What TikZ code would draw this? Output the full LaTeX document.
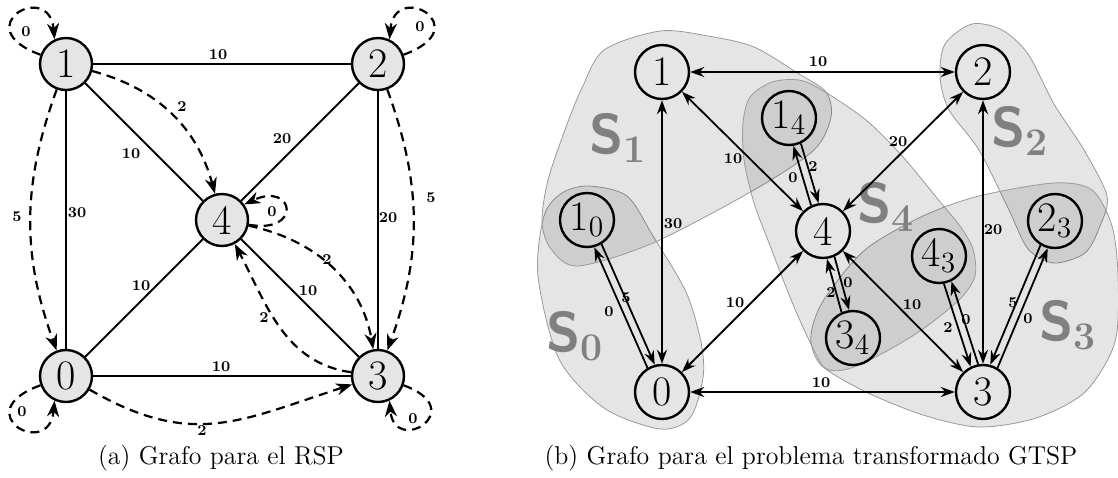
\documentclass[tikz,border=0pt]{standalone}
\usepackage{fontspec}
\usetikzlibrary{arrows.meta}
\newcommand{\sub}[1]{\textsubscript{#1}}
\begin{document}
\begin{tikzpicture}[x=0.5pt,y=0.5pt,
  gnode/.style={circle, draw, line width=1.2pt, minimum size=26pt, inner sep=0pt,
                font=\fontsize{21}{24}\selectfont},
  lnode/.style={gnode, fill=black!10},
  rnode/.style={gnode, minimum size=27pt},
  und/.style={line width=1pt},
  dasharc/.style={line width=1.1pt, dash pattern=on 4.5pt off 3pt,
                  -{Stealth[length=8pt,width=6pt,inset=2.5pt]}},
  biarr/.style={line width=0.9pt,
                {Stealth[length=7pt,width=5pt]}-{Stealth[length=7pt,width=5pt]}},
  onearr/.style={line width=0.9pt, -{Stealth[length=7pt,width=5pt]}},
  lab/.style={font=\fontsize{7.5}{9}\selectfont\bfseries, inner sep=0pt},
  gset/.style={fill=black, fill opacity=0.1, draw=black!40, line width=0.4pt},
  setlab/.style={text=black!50, inner sep=0pt, font=\fontsize{28}{32}\selectfont\sffamily\bfseries},
  caption/.style={font=\fontsize{12.9}{15}\selectfont, anchor=base}
]
\useasboundingbox (0,0) rectangle (1118,-477);

% ---------------- (a) graph of the RSP ----------------
\node[lnode] (a1) at (66,-64) {1};
\node[lnode] (a2) at (378,-64) {2};
\node[lnode] (a4) at (222,-220) {4};
\node[lnode] (a0) at (66,-376) {0};
\node[lnode] (a3) at (378,-376) {3};

\draw[und] (a1) -- (a2);
\draw[und] (a1) -- (a0);
\draw[und] (a2) -- (a3);
\draw[und] (a0) -- (a3);
\draw[und] (a1) -- (a4);
\draw[und] (a2) -- (a4);
\draw[und] (a0) -- (a4);
\draw[und] (a4) -- (a3);

\draw[dasharc] (a1) to[out=-15,in=105] (a4);
\draw[dasharc] (a1) to[out=-110,in=110] (a0);
\draw[dasharc] (a2) to[out=-70,in=70] (a3);
\draw[dasharc] (a4) to[out=-12,in=100] (a3);
\draw[dasharc] (a3) to[out=172,in=-62] (a4);
\draw[dasharc] (a0) to[out=-30,in=198,looseness=1.15] (a3);

% self loops
\draw[dasharc] (a1.160) .. controls +(160:80) and +(95:60) .. (a1.115);
\draw[dasharc] (a2.20) .. controls +(20:80) and +(85:60) .. (a2.65);
\draw[dasharc] (a0.200) .. controls +(200:80) and +(265:60) .. (a0.245);
\draw[dasharc] (a3.-20) .. controls +(-20:72) and +(-85:56) .. (a3.-65);
\draw[dasharc] (a4.-10) .. controls +(-10:55) and +(25:55) .. (a4.35);

% weights
\node[lab] (w12) at (218,-55) {10};
\node[lab] (w14) at (131,-154) {10};
\node[lab] (w10) at (77,-213) {30};
\node[lab] (d10) at (17,-217) {5};
\node[lab] (d14) at (182,-107) {2};
\node[lab] (w24) at (282,-139) {20};
\node[lab] (w23) at (388,-218) {20};
\node[lab] (d23) at (431,-198) {5};
\node[lab] (d44) at (272,-212) {0};
\node[lab] (d11) at (26,-32) {0};
\node[lab] (d22) at (420,-27) {0};
\node[lab] (w04) at (141,-286) {10};
\node[lab] (w03) at (221,-367) {10};
\node[lab] (d34) at (264,-318) {2};
\node[lab] (d03) at (202,-431) {2};
\node[lab] (d00) at (22,-412) {0};
\node[lab] (d43) at (327,-260) {2};
\node[lab] (w43) at (308,-291) {10};
\node[lab] (d33) at (413,-419) {0};

\node[caption] (capa) at (221,-464) {(a) Grafo para el RSP};

% ---------------- (b) transformed GTSP graph ----------------
% clusters
\draw[gset] plot[smooth cycle] coordinates {(589,-186) (627,-196) (653,-236) (686,-292)
  (701,-342) (703,-378) (690,-418) (660,-429) (604,-408) (559,-359) (538,-276) (544,-216) (562,-193)};
\draw[gset] plot[smooth cycle] coordinates {(660,-31) (708,-36) (754,-47) (799,-74) (826,-92)
  (831,-117) (814,-150) (754,-190) (653,-243) (578,-266) (551,-249) (542,-222) (548,-180)
  (566,-127) (582,-88) (604,-50)};
\draw[gset] plot[smooth cycle] coordinates {(945,-44) (972,-24) (1002,-30) (1028,-54)
  (1054,-104) (1084,-150) (1107,-196) (1100,-226) (1085,-253) (1054,-263) (1028,-249)
  (1009,-210) (979,-150) (949,-110) (940,-77)};
\draw[gset] plot[smooth cycle] coordinates {(979,-196) (1054,-183) (1092,-190) (1112,-226)
  (1118,-276) (1115,-342) (1085,-392) (1036,-418) (979,-427) (923,-415) (866,-392)
  (822,-366) (811,-342) (815,-318) (829,-292) (866,-249) (923,-216)};
\draw[gset] plot[smooth cycle] coordinates {(743,-123) (750,-97) (772,-82) (799,-80)
  (822,-90) (866,-120) (903,-157) (941,-203) (960,-226) (973,-249) (975,-276) (960,-299)
  (923,-329) (885,-352) (848,-369) (825,-368) (810,-342) (792,-302) (769,-243) (754,-203)
  (744,-160)};

\node[setlab] (s0) at (575,-336) {S\sub{\rmfamily 0}};
\node[setlab] (s1) at (618,-138) {S\sub{\rmfamily 1}};
\node[setlab] (s2) at (1020,-131) {S\sub{\rmfamily 2}};
\node[setlab] (s3) at (1068,-325) {S\sub{\rmfamily 3}};
\node[setlab] (s4) at (886,-207) {S\sub{\rmfamily 4}};

\node[rnode] (b1) at (662,-72) {1};
\node[rnode] (b2) at (983,-72) {2};
\node[rnode] (b0) at (662,-392) {0};
\node[rnode] (b3) at (983,-392) {3};
\node[rnode] (b4) at (823,-231) {4};
\node[rnode] (b10) at (587,-220) {1\sub{0}};
\node[rnode] (b14) at (789,-118) {1\sub{4}};
\node[rnode] (b23) at (1055,-221) {2\sub{3}};
\node[rnode] (b43) at (939,-256) {4\sub{3}};
\node[rnode] (b34) at (853,-338) {3\sub{4}};

\draw[biarr] (b1) -- (b2);
\draw[biarr] (b1) -- (b0);
\draw[biarr] (b1) -- (b4);
\draw[biarr] (b2) -- (b4);
\draw[biarr] (b2) -- (b3);
\draw[biarr] (b0) -- (b4);
\draw[biarr] (b0) -- (b3);
\draw[biarr] (b4) -- (b3);

% paired one-way arcs
\draw[onearr] (b10.-59) -- (b0.105);
\draw[onearr] (b0.121) -- (b10.-75);
\draw[onearr] (b14.-65) -- (b4.99);
\draw[onearr] (b4.115) -- (b14.-81);
\draw[onearr] (b4.-66) -- (b34.98);
\draw[onearr] (b34.114) -- (b4.-82);
\draw[onearr] (b43.-80) -- (b3.116);
\draw[onearr] (b3.100) -- (b43.-64);
\draw[onearr] (b23.-121) -- (b3.75);
\draw[onearr] (b3.59) -- (b23.-105);

\node[lab] (v12) at (818,-62) {10};
\node[lab] (v14) at (733,-159) {10};
\node[lab] (v10) at (673,-224) {30};
\node[lab] (v24) at (898,-142) {20};
\node[lab] (v23) at (993,-230) {20};
\node[lab] (v04) at (735,-303) {10};
\node[lab] (v03) at (821,-383) {10};
\node[lab] (v43) at (912,-305) {10};
\node[lab] (p100) at (626,-298) {5};
\node[lab] (p010) at (609,-312) {0};
\node[lab] (p144) at (813,-167) {2};
\node[lab] (p414) at (793,-178) {0};
\node[lab] (p344) at (831,-293) {2};
\node[lab] (p434) at (848,-283) {0};
\node[lab] (p433) at (948,-328) {2};
\node[lab] (p343) at (966,-320) {0};
\node[lab] (p233) at (1013,-303) {5};
\node[lab] (p323) at (1028,-319) {0};

\node[caption] (capb) at (811,-464) {(b) Grafo para el problema transformado GTSP};
\end{tikzpicture}
\end{document}
